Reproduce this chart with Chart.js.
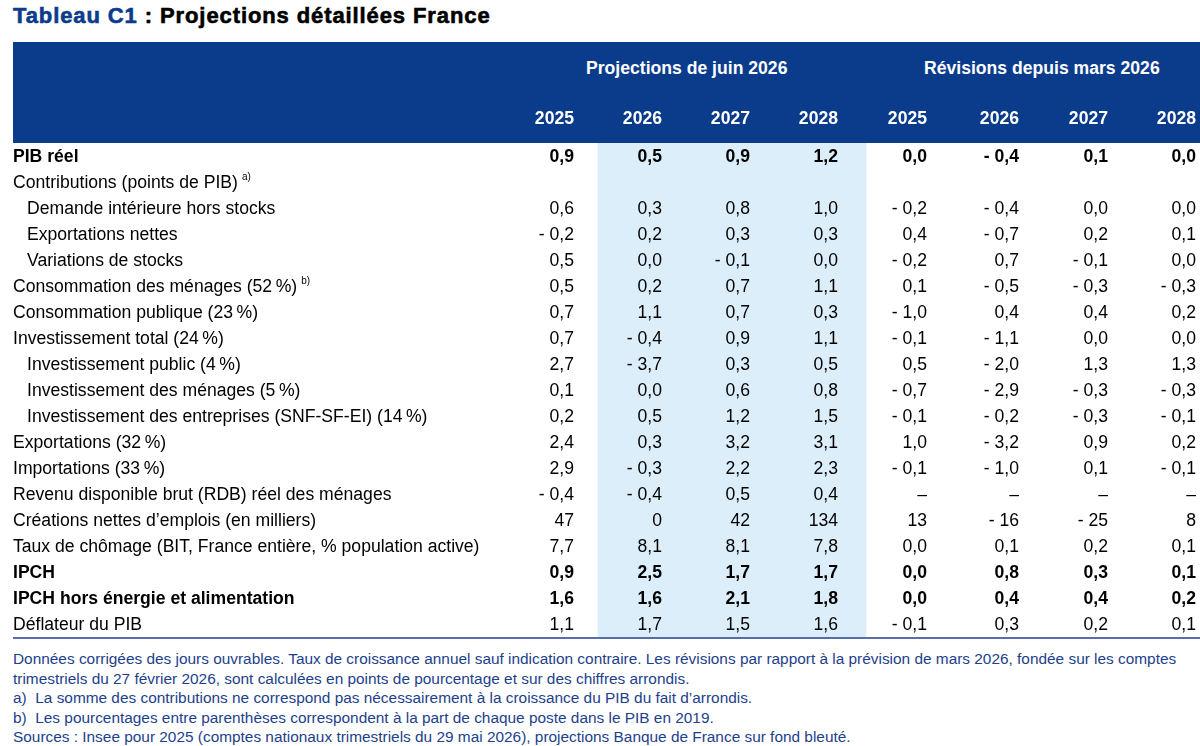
<!DOCTYPE html>
<html><head><meta charset="utf-8">
<script src="https://cdn.jsdelivr.net/npm/chart.js@4"></script>
<style>
body{margin:0;width:1200px;height:746px;overflow:hidden;background:#fff;font-family:"Liberation Sans",Arial,sans-serif;position:relative}
#title{position:absolute;left:13px;top:3px;font-size:22px;font-weight:bold;color:#000;letter-spacing:0.9px;-webkit-text-stroke:0.6px #000}
#title span{color:#0b3c8c;-webkit-text-stroke:0.6px #0b3c8c}
#hdr{position:absolute;left:13px;top:42px;width:1187px;height:101px;background:#0b3c8c;color:#fff;font-weight:bold;font-size:17.6px}
.h{position:absolute;white-space:nowrap}
#notes{position:absolute;left:13px;top:649px;font-size:15.4px;color:#1d3f8c;line-height:19.5px;white-space:nowrap}
#c{position:absolute;left:0;top:0;z-index:2}
</style></head><body>
<canvas id="c" width="1200" height="746"></canvas>
<div id="title"><span>Tableau C1</span> : Projections détaillées France</div>
<div id="hdr">
<div class="h" style="left:573px;top:16px">Projections de juin 2026</div>
<div class="h" style="left:911px;top:16px">Révisions depuis mars 2026</div>
</div>
<div id="notes">Données corrigées des jours ouvrables. Taux de croissance annuel sauf indication contraire. Les révisions par rapport à la prévision de mars 2026, fondée sur les comptes<br>trimestriels du 27 février 2026, sont calculées en points de pourcentage et sur des chiffres arrondis.<br>a)&nbsp; La somme des contributions ne correspond pas nécessairement à la croissance du PIB du fait d’arrondis.<br>b)&nbsp; Les pourcentages entre parenthèses correspondent à la part de chaque poste dans le PIB en 2019.<br>Sources : Insee pour 2025 (comptes nationaux trimestriels du 29 mai 2026), projections Banque de France sur fond bleuté.</div>
<script>
const years=['2025','2026','2027','2028','2025','2026','2027','2028'];
const rowLabels=['PIB réel','Contributions (points de PIB)','Demande intérieure hors stocks','Exportations nettes','Variations de stocks','Consommation des ménages (52\u202F%)','Consommation publique (23\u202F%)','Investissement total (24\u202F%)','Investissement public (4\u202F%)','Investissement des ménages (5\u202F%)','Investissement des entreprises (SNF-SF-EI) (14\u202F%)','Exportations (32\u202F%)','Importations (33\u202F%)','Revenu disponible brut (RDB) réel des ménages','Créations nettes d’emplois (en milliers)','Taux de chômage (BIT, France entière, % population active)','IPCH','IPCH hors énergie et alimentation','Déflateur du PIB'];
const rowNotes=['','a)','','','','b)','','','','','','','','','','','','',''];
const rowIndent=[0,0,1,1,1,0,0,0,1,1,1,0,0,0,0,0,0,0,0];
const rowBold=[1,0,0,0,0,0,0,0,0,0,0,0,0,0,0,0,1,1,0];
const rowDecimals=[1,1,1,1,1,1,1,1,1,1,1,1,1,1,0,1,1,1,1];
const projections=[[0.9,0.5,0.9,1.2],null,[0.6,0.3,0.8,1.0],[-0.2,0.2,0.3,0.3],[0.5,0.0,-0.1,0.0],[0.5,0.2,0.7,1.1],[0.7,1.1,0.7,0.3],[0.7,-0.4,0.9,1.1],[2.7,-3.7,0.3,0.5],[0.1,0.0,0.6,0.8],[0.2,0.5,1.2,1.5],[2.4,0.3,3.2,3.1],[2.9,-0.3,2.2,2.3],[-0.4,-0.4,0.5,0.4],[47,0,42,134],[7.7,8.1,8.1,7.8],[0.9,2.5,1.7,1.7],[1.6,1.6,2.1,1.8],[1.1,1.7,1.5,1.6]];
const revisions=[[0.0,-0.4,0.1,0.0],null,[-0.2,-0.4,0.0,0.0],[0.4,-0.7,0.2,0.1],[-0.2,0.7,-0.1,0.0],[0.1,-0.5,-0.3,-0.3],[-1.0,0.4,0.4,0.2],[-0.1,-1.1,0.0,0.0],[0.5,-2.0,1.3,1.3],[-0.7,-2.9,-0.3,-0.3],[-0.1,-0.2,-0.3,-0.1],[1.0,-3.2,0.9,0.2],[-0.1,-1.0,0.1,-0.1],[null,null,null,null],[13,-16,-25,8],[0.0,0.1,0.2,0.1],[0.0,0.8,0.3,0.1],[0.0,0.4,0.4,0.2],[-0.1,0.3,0.2,0.1]];

const colRight=[574,662,750,838,927,1019,1108,1196];
const band=[598,866];
function fmt(v,d){ if(v===null) return '–'; const s=Math.abs(v).toFixed(d).replace('.',','); return v<0?'- '+s:s; }
const F='"Liberation Sans",Arial,sans-serif';
const FS='17.6px ';
const textPlugin={id:'tbl',afterDatasetsDraw(ch){
  const c=ch.ctx,ys=ch.scales.y,xs=ch.scales.x;
  c.save();c.textBaseline='middle';
  c.fillStyle='#fff';c.font='bold '+FS+F;c.textAlign='right';
  years.forEach((y,i)=>c.fillText(y,xs.getPixelForValue(colRight[i]),119));
  rowLabels.forEach((lab,r)=>{
    const y=ys.getPixelForValue(r)+1;
    c.fillStyle='#000';c.textAlign='left';
    const f=(rowBold[r]?'bold ':'')+FS+F;
    c.font=f;
    const x0=xs.getPixelForValue(rowIndent[r]?27:13);
    c.fillText(lab,x0,y);
    if(rowNotes[r]){const w=c.measureText(lab).width;c.font='10px '+F;c.fillText(rowNotes[r],x0+w+4,y-6);c.font=f;}
    c.textAlign='right';
    const vals=projections[r]?projections[r].concat(revisions[r]):null;
    if(vals) vals.forEach((v,i)=>c.fillText(fmt(v,rowDecimals[r]),xs.getPixelForValue(colRight[i]),y));
  });
  c.strokeStyle='#1d3f8c';c.lineWidth=1.5;c.beginPath();
  c.moveTo(xs.getPixelForValue(13),638);c.lineTo(xs.getPixelForValue(1200),638);c.stroke();
  c.restore();
}};
new Chart(document.getElementById('c'),{
  type:'bar',
  data:{labels:rowLabels.map((l,i)=>i),datasets:[{data:rowLabels.map(()=>band),backgroundColor:'#dbeef9',borderWidth:0,barPercentage:1,categoryPercentage:1}]},
  options:{indexAxis:'y',responsive:false,animation:false,
    layout:{padding:{top:143,bottom:109,left:0,right:0}},
    plugins:{legend:{display:false},tooltip:{enabled:false}},
    scales:{x:{type:'linear',min:0,max:1200,display:false},y:{type:'category',display:false,offset:true}}},
  plugins:[textPlugin]
});
</script></body></html>
